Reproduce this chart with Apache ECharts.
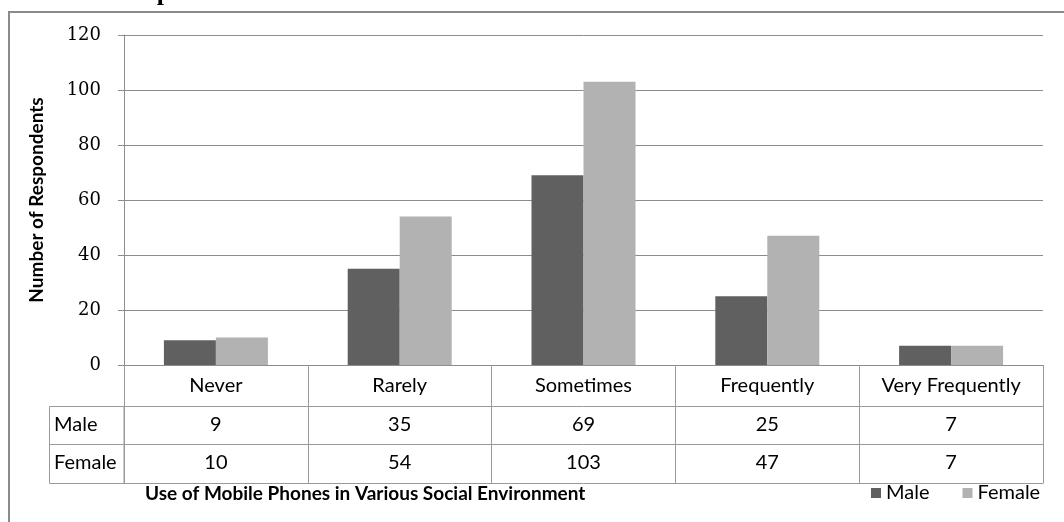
<!DOCTYPE html>
<html>
<head>
<meta charset="utf-8">
<script src="https://cdn.jsdelivr.net/npm/echarts@6/dist/echarts.min.js"></script>
<style>
html,body{margin:0;padding:0;background:#fff;}
#chart{width:1064px;height:522px;}
</style>
</head>
<body>
<div id="chart"></div>
<script>
const categories = ['Never', 'Rarely', 'Sometimes', 'Frequently', 'Very Frequently'];
const male = [9, 35, 69, 25, 7];
const female = [10, 54, 103, 47, 7];
const seriesNames = ['Male', 'Female'];
const rowLabels = ['Male', 'Female'];
const yAxisTitle = 'Number of Respondents';
const xAxisTitle = 'Use of Mobile Phones in Various Social Environment';
const chartTitle = "Graph 4.12: Students' Use of Mobile Phones in Various Social Environments";

const gridCol = '#8c8c8c';
const tableCol = '#9a9a9a';
const sans = 'Lato';

const chart = echarts.init(document.getElementById('chart'), null, {renderer: 'canvas'});

function tableAxis(offset, values, margin, showLabel) {
  return {
    type: 'category',
    data: categories,
    position: 'bottom',
    offset: offset,
    gridIndex: 0,
    axisLine: {show: true, lineStyle: {color: tableCol, width: 1}},
    axisTick: {show: false},
    splitLine: {show: false},
    axisLabel: {
      show: showLabel,
      interval: 0,
      margin: margin,
      color: '#000',
      fontFamily: sans,
      fontSize: 20,
      formatter: function (v, i) { return values ? String(values[i]) : v; }
    }
  };
}

const option = {
  animation: false,
  backgroundColor: '#fff',
  title: [
    {
      text: chartTitle,
      left: 112,
      top: -20,
      padding: 0,
      textStyle: {fontFamily: 'Liberation Serif', fontWeight: 'bold', fontSize: 26, color: '#000'}
    },
    {
      text: xAxisTitle,
      left: 145,
      top: 484,
      padding: 0,
      textStyle: {fontFamily: sans, fontWeight: 'bold', fontSize: 19, color: '#000'}
    }
  ],
  legend: {
    data: seriesNames,
    left: 871,
    top: 483,
    padding: 0,
    icon: 'rect',
    itemWidth: 10,
    itemHeight: 10,
    itemGap: 33,
    textStyle: {fontFamily: sans, fontSize: 20, color: '#000'}
  },
  grid: {
    left: 124,
    right: 21,
    top: 35,
    bottom: 157,
    containLabel: false,
    outerBoundsMode: 'none'
  },
  xAxis: [
    {
      type: 'category',
      data: categories,
      position: 'bottom',
      axisLine: {show: true, lineStyle: {color: gridCol, width: 1}},
      axisTick: {show: true, length: 118, alignWithLabel: false, interval: 0, lineStyle: {color: tableCol, width: 1}},
      splitLine: {show: false},
      axisLabel: {interval: 0, margin: 11, color: '#000', fontFamily: sans, fontSize: 20}
    },
    tableAxis(41, male, 9, true),
    tableAxis(79, female, 9, true),
    tableAxis(118, null, 0, false)
  ],
  yAxis: {
    type: 'value',
    min: 0,
    max: 120,
    interval: 20,
    name: yAxisTitle,
    nameLocation: 'middle',
    nameRotate: 90,
    nameGap: 78,
    nameTextStyle: {fontFamily: sans, fontWeight: 'bold', fontSize: 19, color: '#000'},
    axisLine: {show: true, lineStyle: {color: gridCol, width: 1}},
    axisTick: {show: true, length: 6, inside: false, lineStyle: {color: gridCol, width: 1}},
    splitLine: {show: true, lineStyle: {color: gridCol, width: 1}},
    axisLabel: {margin: 23, color: '#000', fontFamily: 'DejaVu Serif', fontSize: 18}
  },
  series: [
    {
      name: seriesNames[0],
      type: 'bar',
      xAxisIndex: 0,
      data: male,
      barWidth: 52,
      barGap: '0%',
      itemStyle: {color: '#606060'}
    },
    {
      name: seriesNames[1],
      type: 'bar',
      xAxisIndex: 0,
      data: female,
      barWidth: 52,
      barGap: '0%',
      itemStyle: {color: '#b2b2b2'}
    }
  ],
  graphic: [
    {
      type: 'rect',
      shape: {x: 9, y: 12, width: 1200, height: 700},
      style: {fill: 'none', stroke: '#8a8a8a', lineWidth: 2},
      silent: true
    },
    {
      type: 'rect',
      shape: {x: 49.5, y: 406.5, width: 74.5, height: 77},
      style: {fill: 'none', stroke: tableCol, lineWidth: 1},
      silent: true
    },
    {
      type: 'line',
      shape: {x1: 49.5, y1: 444.5, x2: 124, y2: 444.5},
      style: {stroke: tableCol, lineWidth: 1},
      silent: true
    },
    {
      type: 'text',
      left: 54,
      top: 415,
      style: {text: rowLabels[0], fontFamily: sans, fontSize: 20, fill: '#000'}
    },
    {
      type: 'text',
      left: 54,
      top: 453,
      style: {text: rowLabels[1], fontFamily: sans, fontSize: 20, fill: '#000'}
    }
  ]
};

chart.setOption(option);
</script>
</body>
</html>
